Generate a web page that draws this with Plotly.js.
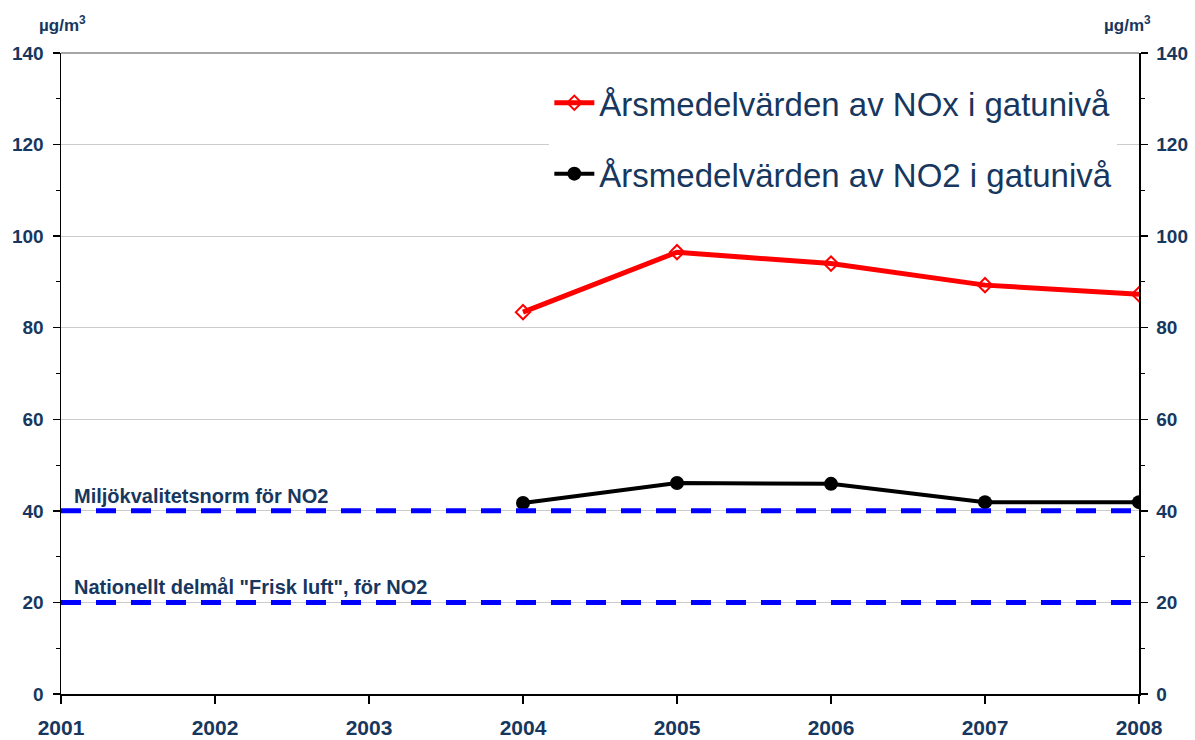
<!DOCTYPE html>
<html>
<head>
<meta charset="utf-8">
<script src="https://cdn.plot.ly/plotly-3.0.1.min.js"></script>
<style>html,body{margin:0;padding:0;background:#fff;}#chart{width:1195px;height:740px;}</style>
</head>
<body>
<div id="chart"></div>
<script>
const years = [2001, 2002, 2003, 2004, 2005, 2006, 2007, 2008];
const dataYears = [2004, 2005, 2006, 2007, 2008];
const noxValues = [83.4, 96.5, 94.0, 89.3, 87.3];
const no2Values = [41.7, 46.1, 45.9, 41.9, 41.9];
const normYears = [2001, 2008];
const normValue = 40;
const targetValue = 20;
const noxName = "Årsmedelvärden av NOx i gatunivå";
const no2Name = "Årsmedelvärden av NO2 i gatunivå";
const normLabel = "Miljökvalitetsnorm för NO2";
const targetLabel = "Nationellt delmål \"Frisk luft\", för NO2";
const unitLabel = "µg/m<sup>3</sup>";

const textColor = "#17375e";
const font = "Arial, 'Liberation Sans', sans-serif";

const traces = [
  {x: normYears, y: normYears.map(() => normValue), yaxis: 'y2', mode: 'lines', showlegend: false,
   line: {color: '#0000ff', width: 5, dash: '20px,15px'}, hoverinfo: 'skip'},
  {x: normYears, y: normYears.map(() => targetValue), yaxis: 'y2', mode: 'lines', showlegend: false,
   line: {color: '#0000ff', width: 5, dash: '20px,15px'}, hoverinfo: 'skip'},
  {x: dataYears, y: noxValues, name: noxName, mode: 'lines+markers', legendgroup: 'a',
   line: {color: '#ff0000', width: 5},
   marker: {symbol: 'diamond-open', size: 11, color: '#ff0000', line: {width: 2, color: '#ff0000'}}},
  {x: dataYears, y: no2Values, name: no2Name, mode: 'lines+markers', legendgroup: 'b',
   line: {color: '#000000', width: 4},
   marker: {symbol: 'circle', size: 14, color: '#000000'}}
];

const axisCommon = {
  range: [0, 140], dtick: 20, tick0: 0, ticks: 'outside', ticklen: 7, tickwidth: 1.5, tickcolor: '#000',
  showline: true, linecolor: '#000', linewidth: 1.5, zeroline: false,
  tickfont: {family: font, size: 19, color: textColor, weight: 'bold'},
  ticklabelstandoff: 5,
  minor: {dtick: 10, ticks: 'outside', ticklen: 4, tickcolor: '#000', tickwidth: 1, showgrid: false},
  fixedrange: true
};

const layout = {
  width: 1195, height: 740,
  margin: {l: 61, r: 56, t: 53, b: 46},
  paper_bgcolor: '#fff', plot_bgcolor: '#fff',
  showlegend: true,
  xaxis: {
    range: [2001, 2008], tickvals: years, ticktext: years.map(String),
    ticks: 'outside', ticklen: 8, tickwidth: 1.5, tickcolor: '#000',
    showline: true, linecolor: '#000', linewidth: 1.5, showgrid: false, zeroline: false,
    tickfont: {family: font, size: 21, color: textColor, weight: 'bold'},
    ticklabelstandoff: 6
  },
  yaxis: Object.assign({}, axisCommon, {side: 'left', showgrid: true, gridcolor: '#cccccc', gridwidth: 1}),
  yaxis2: Object.assign({}, axisCommon, {side: 'right', overlaying: 'y', showgrid: false}),
  legend: {
    x: 0.453, xanchor: 'left', y: 0.966, yanchor: 'top',
    bgcolor: '#ffffff', borderwidth: 0,
    font: {family: font, size: 33, color: textColor},
    traceorder: 'grouped', tracegroupgap: 25, itemwidth: 40
  },
  shapes: [
    {type: 'line', xref: 'paper', yref: 'paper', x0: 0, x1: 1, y0: 1, y1: 1,
     line: {color: '#a6a6a6', width: 2}, layer: 'below'}
  ],
  annotations: [
    {xref: 'x', yref: 'y', x: 2001.07, y: normValue, xanchor: 'left', yanchor: 'bottom', yshift: 2,
     text: normLabel, showarrow: false, font: {family: font, size: 20, color: textColor, weight: 'bold'}},
    {xref: 'x', yref: 'y', x: 2001.07, y: targetValue, xanchor: 'left', yanchor: 'bottom', yshift: 2,
     text: targetLabel, showarrow: false, font: {family: font, size: 20, color: textColor, weight: 'bold'}},
    {xref: 'paper', yref: 'paper', x: -0.022, y: 1.025, xanchor: 'left', yanchor: 'bottom',
     text: unitLabel, showarrow: false, font: {family: font, size: 17, color: textColor, weight: 'bold'}},
    {xref: 'paper', yref: 'paper', x: 1.013, y: 1.025, xanchor: 'right', yanchor: 'bottom',
     text: unitLabel, showarrow: false, font: {family: font, size: 17, color: textColor, weight: 'bold'}}
  ]
};

Plotly.newPlot('chart', traces, layout, {displayModeBar: false, staticPlot: true});
</script>
</body>
</html>
